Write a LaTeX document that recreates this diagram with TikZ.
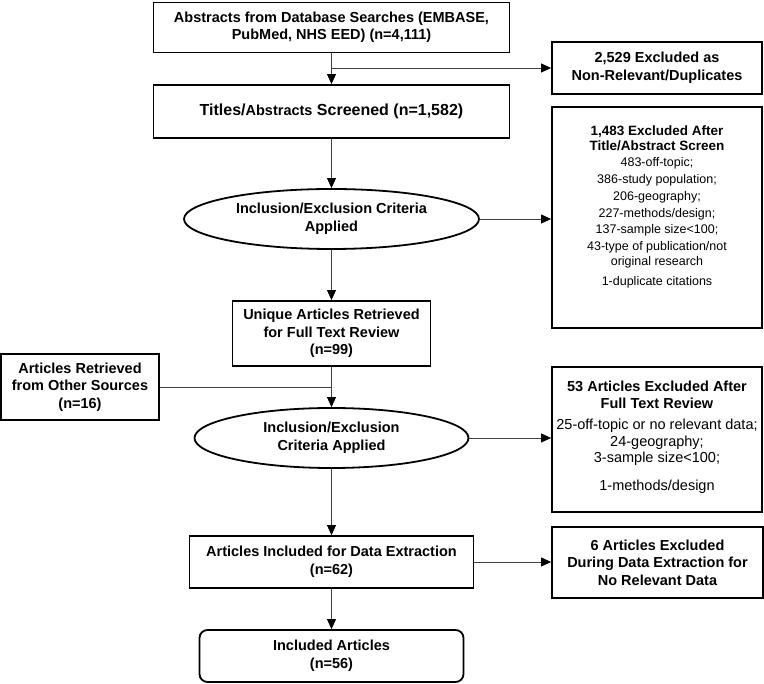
\documentclass[tikz,border=0pt]{standalone}
\usepackage{fontspec}
\setmainfont{Liberation Sans}
\usetikzlibrary{arrows.meta,shapes.geometric}
\tikzset{
  frame/.style={draw=black, line width=1.8pt, fill=white, inner sep=0pt, align=center,
    font=\bfseries\fontsize{14.5}{17.5}\selectfont},
  oval/.style={frame, ellipse},
  txt/.style={inner sep=0pt, align=center},
  conn/.style={draw=black!75, line width=0.8pt},
  arr/.style={conn, -{Triangle[length=10pt,width=9pt,color=black]}},
}
\begin{document}
\begin{tikzpicture}[x=1pt,y=-1pt]
\useasboundingbox (0,0) rectangle (764,684);

\node[frame, minimum width=356pt, minimum height=50pt] (A) at (331.5,27.5)
  {Abstracts from Database Searches (EMBASE,\\PubMed, NHS EED) (n=4,111)};
\node[frame, minimum width=356pt, minimum height=53pt] (B) at (331.5,111.5)
  {{\fontsize{16}{18}\selectfont Titles/}Abstracts{\fontsize{16}{18}\selectfont{} Screened (n=1,582)}};
\node[frame, minimum width=210pt, minimum height=52pt] (X1) at (657,68)
  {2,529 Excluded as\\Non-Relevant/Duplicates};
\node[frame, minimum width=210pt, minimum height=221pt] (X2) at (657,217.5) {};
\node[txt, font=\fontsize{12.5}{15}\selectfont] (X2t) at (657,207)
  {{\bfseries\fontsize{13.5}{15}\selectfont 1,483 Excluded After}\\
   {\bfseries\fontsize{13.5}{15}\selectfont Title/Abstract Screen}\\[0.6pt]
   483-off-topic;\\[2.7pt]
   386-study population;\\[1.7pt]
   206-geography;\\[1.7pt]
   227-methods/design;\\[1.7pt]
   137-sample size<100;\\[1.7pt]
   43-type of publication/not\\
   original research\\[5pt]
   1-duplicate citations};
\node[oval, minimum width=295pt, minimum height=60pt] (E1) at (331.5,219)
  {Inclusion/Exclusion Criteria\\Applied};
\node[frame, minimum width=198pt, minimum height=65pt] (C) at (331.5,333.5)
  {Unique Articles Retrieved\\for Full Text Review\\(n=99)};
\node[frame, minimum width=158pt, minimum height=66pt] (D) at (80,387)
  {Articles Retrieved\\from Other Sources\\(n=16)};
\node[oval, minimum width=274pt, minimum height=60pt] (E2) at (331.5,438)
  {Inclusion/Exclusion\\Criteria Applied};
\node[frame, minimum width=210pt, minimum height=145pt] (X3) at (657,439.5) {};
\node[txt, font=\fontsize{14.5}{17}\selectfont] (X3t) at (657,437.5)
  {\textbf{53 Articles Excluded After}\\
   \textbf{Full Text Review}\\[4pt]
   25-off-topic or no relevant data;\\
   24-geography;\\[-1pt]
   3-sample size<100;\\[11pt]
   1-methods/design};
\node[frame, minimum width=284pt, minimum height=52pt] (F) at (331.5,562)
  {Articles Included for Data Extraction\\(n=62)};
\node[frame, minimum width=211pt, minimum height=71pt] (X4) at (657.5,562.5)
  {6 Articles Excluded\\During Data Extraction for\\No Relevant Data};
\node[frame, rounded corners=8pt, minimum width=264pt, minimum height=52pt] (H) at (331.5,656)
  {Included Articles\\(n=56)};

\coordinate (j1) at (331.5,68);
\coordinate (j2) at (331.5,387);
\draw[arr] (A) -- (B);
\draw[arr] (j1) -- (X1.west);
\draw[arr] (B) -- (E1);
\draw[arr] (E1.east) -- (E1.east -| X2.west);
\draw[arr] (E1) -- (C);
\draw[arr] (C) -- (E2);
\draw[conn] (D.east) -- (j2);
\draw[arr] (E2.east) -- (E2.east -| X3.west);
\draw[arr] (E2) -- (F);
\draw[arr] (F.east) -- (F.east -| X4.west);
\draw[arr] (F) -- (H);
\end{tikzpicture}
\end{document}
